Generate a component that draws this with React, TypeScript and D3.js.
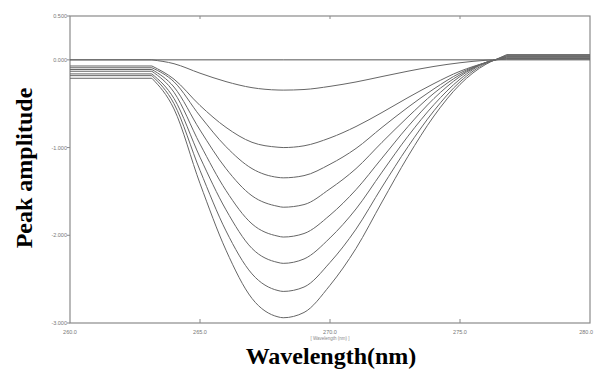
import React from "react";
import * as d3 from "d3";

// wavelength grid (nm) shared by every trace
const wavelengths = [260, 263.15, 264, 265, 266, 267, 268, 268.2, 269, 270, 271, 272, 273, 274, 275, 276, 276.35, 276.8, 280];

// peak amplitude traces, shallow to deep
const trace1 = [0, 0, 0, 0, 0, 0, 0, 0, 0, 0, 0, 0, 0, 0, 0, 0, 0, 0, 0];
const trace2 = [0, 0, -0.044, -0.152, -0.248, -0.317, -0.344, -0.345, -0.338, -0.302, -0.252, -0.19, -0.129, -0.075, -0.033, -0.005, 0, 0.008, 0.008];
const trace3 = [-0.07, -0.07, -0.22, -0.52, -0.77, -0.94, -0.996, -1.0, -0.98, -0.89, -0.76, -0.6, -0.43, -0.27, -0.13, -0.03, 0, 0.015, 0.015];
const trace4 = [-0.09, -0.09, -0.25, -0.64, -0.99, -1.24, -1.34, -1.345, -1.32, -1.19, -1.01, -0.77, -0.54, -0.33, -0.15, -0.03, 0, 0.022, 0.022];
const trace5 = [-0.11, -0.11, -0.31, -0.8, -1.24, -1.55, -1.67, -1.68, -1.65, -1.47, -1.24, -0.94, -0.65, -0.38, -0.17, -0.03, 0, 0.03, 0.03];
const trace6 = [-0.13, -0.13, -0.37, -0.96, -1.49, -1.87, -2.01, -2.02, -1.98, -1.77, -1.48, -1.12, -0.76, -0.44, -0.19, -0.03, 0, 0.037, 0.037];
const trace7 = [-0.16, -0.16, -0.44, -1.11, -1.71, -2.15, -2.31, -2.32, -2.27, -2.03, -1.7, -1.28, -0.87, -0.51, -0.22, -0.03, 0, 0.045, 0.045];
const trace8 = [-0.18, -0.18, -0.5, -1.26, -1.95, -2.44, -2.63, -2.64, -2.59, -2.31, -1.93, -1.45, -0.99, -0.58, -0.25, -0.04, 0, 0.052, 0.052];
const trace9 = [-0.21, -0.21, -0.56, -1.41, -2.17, -2.72, -2.93, -2.94, -2.88, -2.57, -2.15, -1.62, -1.1, -0.64, -0.28, -0.05, 0, 0.06, 0.06];

const traces = [trace1, trace2, trace3, trace4, trace5, trace6, trace7, trace8, trace9];

const yTicks = [0.5, 0, -1, -2, -3];
const yTickLabels = ["0.500", "0.000", "-1.000", "-2.000", "-3.000"];
const xTicks = [260, 265, 270, 275, 280];
const xTickLabels = ["260.0", "265.0", "270.0", "275.0", "280.0"];

const W = 594;
const H = 371;
const left = 70;
const right = 590;
const top = 16;
const bottom = 323;

// index where the dip starts and where all traces meet again
const dipStart = 1;
const dipEnd = 16;

export default function App() {
  const x = d3.scaleLinear().domain([260, 280]).range([left, right]);
  const y = d3.scaleLinear().domain([-3, 0.5]).range([bottom, top]);

  const pts = (t: number[]) => t.map((v, i) => [x(wavelengths[i]), y(v)] as [number, number]);
  const flat = d3.line().curve(d3.curveLinear);
  const smooth = d3.line().curve(d3.curveMonotoneX);

  // flat shoulders stay straight, the dip itself is smoothed -> sharp kinks at both ends
  const tracePath = (t: number[]) => {
    const p = pts(t);
    return (
      (flat(p.slice(0, dipStart + 1)) || "") +
      (smooth(p.slice(dipStart, dipEnd + 1)) || "") +
      (flat(p.slice(dipEnd)) || "")
    );
  };

  const axisColor = "#8a8a8a";
  const tickFont = "Liberation Sans, Arial, sans-serif";

  return (
    <svg
      width={W}
      height={H}
      style={{ position: "absolute", left: 0, top: 0, background: "#fff" }}
    >
      {/* frame */}
      <rect
        x={left}
        y={top}
        width={right - left}
        height={bottom - top}
        fill="none"
        stroke={axisColor}
        strokeWidth={1.2}
      />

      {/* traces */}
      {traces.map((t, i) => (
        <path
          key={i}
          d={tracePath(t)}
          fill="none"
          stroke={i === 0 ? "#555" : "#666"}
          strokeWidth={1}
        />
      ))}

      {/* y ticks */}
      {yTicks.map((v, i) => (
        <g key={v}>
          <line x1={left - 3} x2={left} y1={y(v)} y2={y(v)} stroke={axisColor} />
          <text
            x={left - 3}
            y={y(v) + 2}
            textAnchor="end"
            fontSize={5.5}
            fill="#777"
            fontFamily={tickFont}
          >
            {yTickLabels[i]}
          </text>
        </g>
      ))}

      {/* x ticks */}
      {xTicks.map((v, i) => (
        <g key={v}>
          {v > 260 && v < 280 && (
            <>
              <line x1={x(v)} x2={x(v)} y1={bottom} y2={bottom - 4} stroke={axisColor} />
              <line x1={x(v)} x2={x(v)} y1={top} y2={top + 3} stroke={axisColor} />
            </>
          )}
          <text
            x={v === 280 ? W - 1 : x(v)}
            y={334}
            textAnchor={v === 280 ? "end" : "middle"}
            fontSize={5.5}
            fill="#777"
            fontFamily={tickFont}
          >
            {xTickLabels[i]}
          </text>
        </g>
      ))}
      <text
        x={x(270)}
        y={340}
        textAnchor="middle"
        fontSize={4.5}
        fill="#888"
        fontFamily={tickFont}
      >
        [ Wavelength (nm) ]
      </text>

      {/* axis titles */}
      <text
        transform={`translate(32, 168) rotate(-90)`}
        textAnchor="middle"
        fontSize={24}
        fontWeight="bold"
        fontFamily="Liberation Serif, Times New Roman, serif"
        fill="#000"
      >
        Peak amplitude
      </text>
      <text
        x={331}
        y={364}
        textAnchor="middle"
        fontSize={24}
        fontWeight="bold"
        fontFamily="Liberation Serif, Times New Roman, serif"
        fill="#000"
      >
        Wavelength(nm)
      </text>
    </svg>
  );
}
